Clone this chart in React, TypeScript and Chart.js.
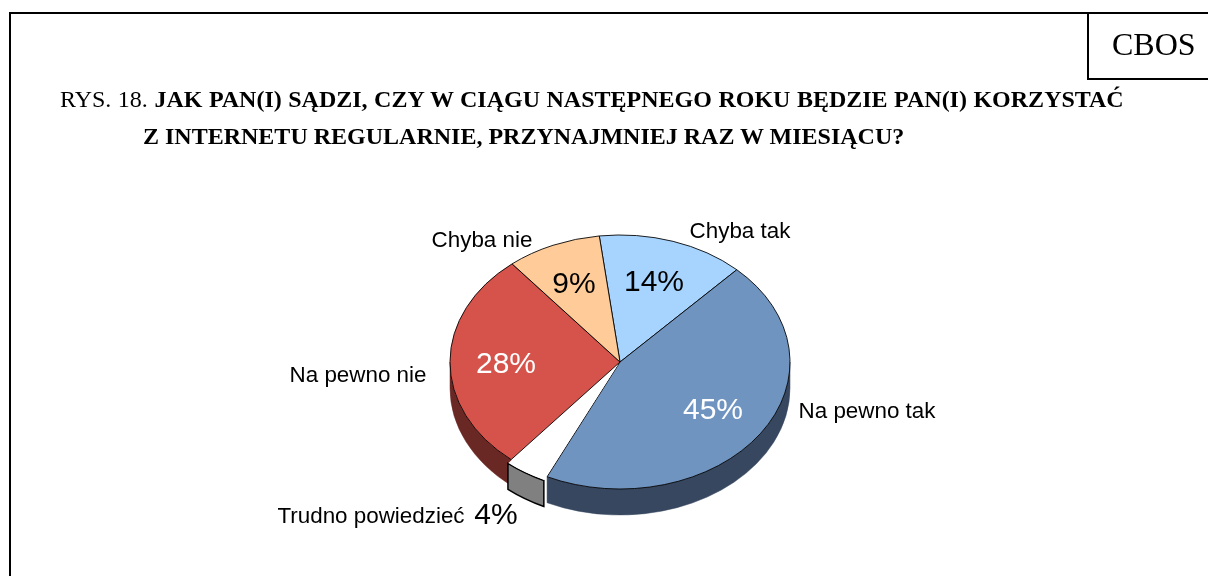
import React, { useEffect, useRef } from "react";
import { Chart, registerables } from "chart.js";

Chart.register(...registerables);

const categories = ["Chyba tak", "Na pewno tak", "Trudno powiedzieć", "Na pewno nie", "Chyba nie"];
const shares = [14, 45, 4, 28, 9];
const topColors = ["#a6d4ff", "#7094c0", "#ffffff", "#d5534b", "#ffcc99"];
const edgeColors = ["#000000", "#000000", "rgba(0,0,0,0)", "#000000", "#000000"];
const sideColors = ["#5d7a94", "#36475f", "#808080", "#6a2824", "#8f7355"];
const percentColors = ["#000000", "#ffffff", "#000000", "#ffffff", "#000000"];

// label anchors relative to the pie centre
const nameSpots = [[120, -130], [247, 50], [-249, 155], [-262, 14], [-138, -121]];
const percentSpots = [[34, -79], [93, 49], [-124, 154], [-114, 3], [-46, -77]];

const SQUASH = 127 / 170;
const DEPTH = 26;
const RADIUS = 170;

const piePlugin = {
  id: "tiltedPie",
  beforeDatasetsDraw(chart: any) {
    const { ctx } = chart;
    const arcs = chart.getDatasetMeta(0).data;
    const cx = arcs[0].x;
    const cy = arcs[0].y;
    const order = arcs.map((_: any, i: number) => i).sort((a: number, b: number) => (a === 2 ? 1 : 0) - (b === 2 ? 1 : 0));
    for (const i of order) {
      const arc = arcs[i];
      const { startAngle, endAngle, outerRadius } = arc;
      const off = (arc.options.offset || 0) / 2;
      const mid = (startAngle + endAngle) / 2;
      const ox = cx + Math.cos(mid) * off;
      const oy = cy + Math.sin(mid) * off * SQUASH;
      const twoPi = Math.PI * 2;
      for (const shift of [-twoPi, 0, twoPi]) {
        const a = Math.max(startAngle + shift, 0);
        const b = Math.min(endAngle + shift, Math.PI);
        if (b <= a) continue;
        ctx.save();
        ctx.beginPath();
        ctx.ellipse(ox, oy, outerRadius, outerRadius * SQUASH, 0, a, b);
        ctx.ellipse(ox, oy + DEPTH, outerRadius, outerRadius * SQUASH, 0, b, a, true);
        ctx.closePath();
        ctx.fillStyle = sideColors[i];
        ctx.fill();
        ctx.lineWidth = i === 2 ? 1.5 : 0.5;
        ctx.strokeStyle = i === 2 ? "#000000" : sideColors[i];
        ctx.stroke();
        ctx.restore();
      }
    }
    ctx.save();
    ctx.translate(cx, cy);
    ctx.scale(1, SQUASH);
    ctx.translate(-cx, -cy);
  },
  afterDatasetsDraw(chart: any) {
    const { ctx } = chart;
    ctx.restore();
    const arcs = chart.getDatasetMeta(0).data;
    const cx = arcs[0].x;
    const cy = arcs[0].y;
    ctx.save();
    ctx.textAlign = "center";
    ctx.textBaseline = "middle";
    categories.forEach((name, i) => {
      ctx.font = '22.4px "Liberation Sans"';
      ctx.fillStyle = "#000000";
      ctx.fillText(name, cx + nameSpots[i][0], cy + nameSpots[i][1]);
      ctx.font = '30px "Liberation Sans"';
      ctx.fillStyle = percentColors[i];
      ctx.fillText(shares[i] + "%", cx + percentSpots[i][0], cy + percentSpots[i][1]);
    });
    ctx.restore();
  },
};

const serif = '"Liberation Serif", serif';
const line: React.CSSProperties = { position: "absolute", whiteSpace: "nowrap", fontFamily: serif, fontSize: 24, lineHeight: "26px", color: "#000" };
const rule: React.CSSProperties = { position: "absolute", background: "#000" };

export default function App() {
  const ref = useRef<HTMLCanvasElement>(null);
  useEffect(() => {
    const chart = new Chart(ref.current!, {
      type: "pie",
      data: {
        labels: categories,
        datasets: [
          {
            data: shares,
            backgroundColor: topColors,
            borderColor: edgeColors,
            borderWidth: 1,
            offset: [0, 0, 12, 0, 0],
            clip: false,
          } as any,
        ],
      },
      options: {
        responsive: false,
        animation: false,
        rotation: -7,
        radius: RADIUS,
        layout: { padding: { left: 32, top: 148, right: 0, bottom: 0 } },
        plugins: { legend: { display: false }, tooltip: { enabled: false }, title: { display: false } },
      } as any,
      plugins: [piePlugin],
    });
    return () => chart.destroy();
  }, []);
  return (
    <div style={{ position: "fixed", inset: 0, overflow: "hidden", background: "#fff" }}>
      <canvas ref={ref} width={1208} height={576} style={{ position: "absolute", left: 0, top: 0, display: "block" }} />
      <div style={{ ...rule, left: 9, top: 12, width: 1199, height: 2 }} />
      <div style={{ ...rule, left: 9, top: 12, width: 2, height: 564 }} />
      <div style={{ ...rule, left: 1087, top: 12, width: 2, height: 68 }} />
      <div style={{ ...rule, left: 1087, top: 78, width: 121, height: 2 }} />
      <div style={{ ...line, left: 1112, top: 26, fontSize: 32, lineHeight: "36px" }}>CBOS</div>
      <div style={{ ...line, left: 60, top: 86, wordSpacing: 0.5 }}>
        RYS. 18. <b>JAK PAN(I) SĄDZI, CZY W CIĄGU NASTĘPNEGO ROKU BĘDZIE PAN(I) KORZYSTAĆ</b>
      </div>
      <div style={{ ...line, left: 143, top: 123 }}>
        <b>Z INTERNETU REGULARNIE, PRZYNAJMNIEJ RAZ W MIESIĄCU?</b>
      </div>
    </div>
  );
}
